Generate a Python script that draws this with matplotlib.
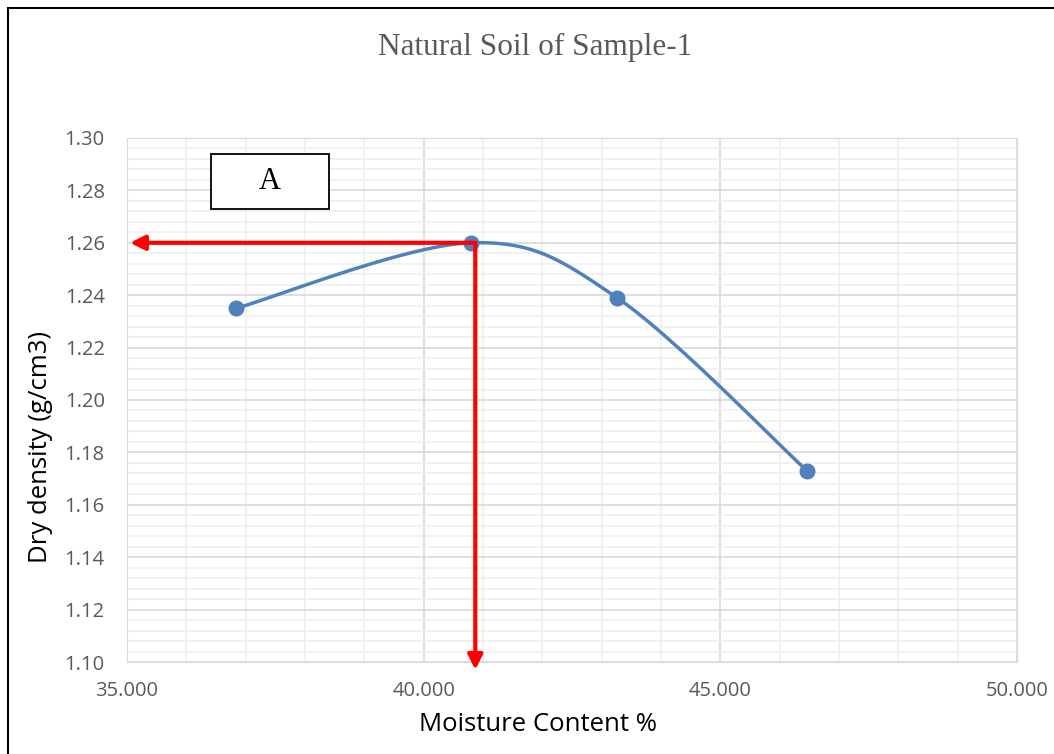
import matplotlib.pyplot as plt
import numpy as np
from matplotlib.patches import Rectangle

# data
moisture = [36.84, 40.80, 43.26, 46.46]
density = [1.235, 1.260, 1.239, 1.173]
mdd_x = 40.87
mdd_y = 1.260
x_ticks = [35, 40, 45, 50]
y_ticks = [1.10, 1.12, 1.14, 1.16, 1.18, 1.20, 1.22, 1.24, 1.26, 1.28, 1.30]


def smooth(xs, ys, n=40):
    # catmull-rom, roughly what Excel's "smoothed line" does
    px = np.array([xs[0]] + list(xs) + [xs[-1]])
    py = np.array([ys[0]] + list(ys) + [ys[-1]])
    out_x, out_y = [], []
    t = np.linspace(0, 1, n)
    for i in range(1, len(px) - 2):
        for p, out in ((px, out_x), (py, out_y)):
            p0, p1, p2, p3 = p[i - 1], p[i], p[i + 1], p[i + 2]
            c1 = p1 + (p2 - p0) / 6
            c2 = p2 - (p3 - p1) / 6
            out.extend((1 - t) ** 3 * p1 + 3 * (1 - t) ** 2 * t * c1
                       + 3 * (1 - t) * t ** 2 * c2 + t ** 3 * p2)
    return out_x, out_y


fig = plt.figure(figsize=(10.54, 7.54), dpi=100)
ax = fig.add_axes([0.1205, 0.122, 0.8444, 0.695])

sx, sy = smooth(moisture, density)
ax.plot(sx, sy, color='#4F81BD', lw=2.5, zorder=3, solid_capstyle='round')
ax.plot(moisture, density, 'o', color='#4F81BD', ms=10.5, zorder=4)

# red arrows to the axes
arrow = dict(arrowstyle='-|>', color='red', lw=3, mutation_scale=22,
             shrinkA=0, shrinkB=0)
ax.annotate('', xy=(35.05, mdd_y), xytext=(mdd_x, mdd_y),
            arrowprops=arrow, zorder=5, annotation_clip=False)
ax.annotate('', xy=(mdd_x, 1.097), xytext=(mdd_x, mdd_y),
            arrowprops=arrow, zorder=5, annotation_clip=False)

ax.set_xlim(35, 50)
ax.set_ylim(1.10, 1.30)
ax.set_xticks(x_ticks)
ax.set_xticklabels(['%.3f' % v for v in x_ticks])
ax.set_yticks(y_ticks)
ax.set_yticklabels(['%.2f' % v for v in y_ticks])
ax.set_xticks(np.arange(35, 51, 1), minor=True)
ax.set_yticks(np.arange(1.10, 1.3001, 0.004), minor=True)
ax.grid(which='major', color='#d9d9d9', lw=1.2)
ax.grid(which='minor', color='#efefef', lw=1.2)
ax.set_axisbelow(True)
ax.tick_params(which='both', length=0, labelsize=14.5, colors='#595959')
ax.tick_params(axis='x', pad=14)
ax.tick_params(axis='y', pad=16)
for lbl in ax.get_xticklabels() + ax.get_yticklabels():
    lbl.set_fontfamily('Open Sans')
for s in ax.spines.values():
    s.set_color('#d9d9d9')

ax.set_xlabel('Moisture Content %', fontsize=18.5, fontfamily='Open Sans')
ax.set_ylabel('Dry density (g/cm3)', fontsize=18.5, fontfamily='Open Sans')
ax.xaxis.set_label_coords(0.462, -0.095)
ax.yaxis.set_label_coords(-0.083, 0.41)

fig.text(0.508, 0.937, 'Natural Soil of Sample-1', ha='center', va='center',
         fontsize=22.5, fontfamily='Liberation Serif', color='#595959')

# box "A"
ax.add_patch(Rectangle((0.0944, 0.8645), 0.1326, 0.105, transform=ax.transAxes,
                       facecolor='white', edgecolor='black', lw=1.3, zorder=6))
ax.text(0.1607, 0.917, 'A', transform=ax.transAxes, ha='center', va='center',
        fontsize=22, fontfamily='Liberation Serif', zorder=7)

# outer frame
fig.patches.append(Rectangle((0.0072, -0.1), 1.2, 1.0893, transform=fig.transFigure,
                             facecolor='none', edgecolor='black', lw=1.5))

fig.savefig('out.png', dpi=100)
